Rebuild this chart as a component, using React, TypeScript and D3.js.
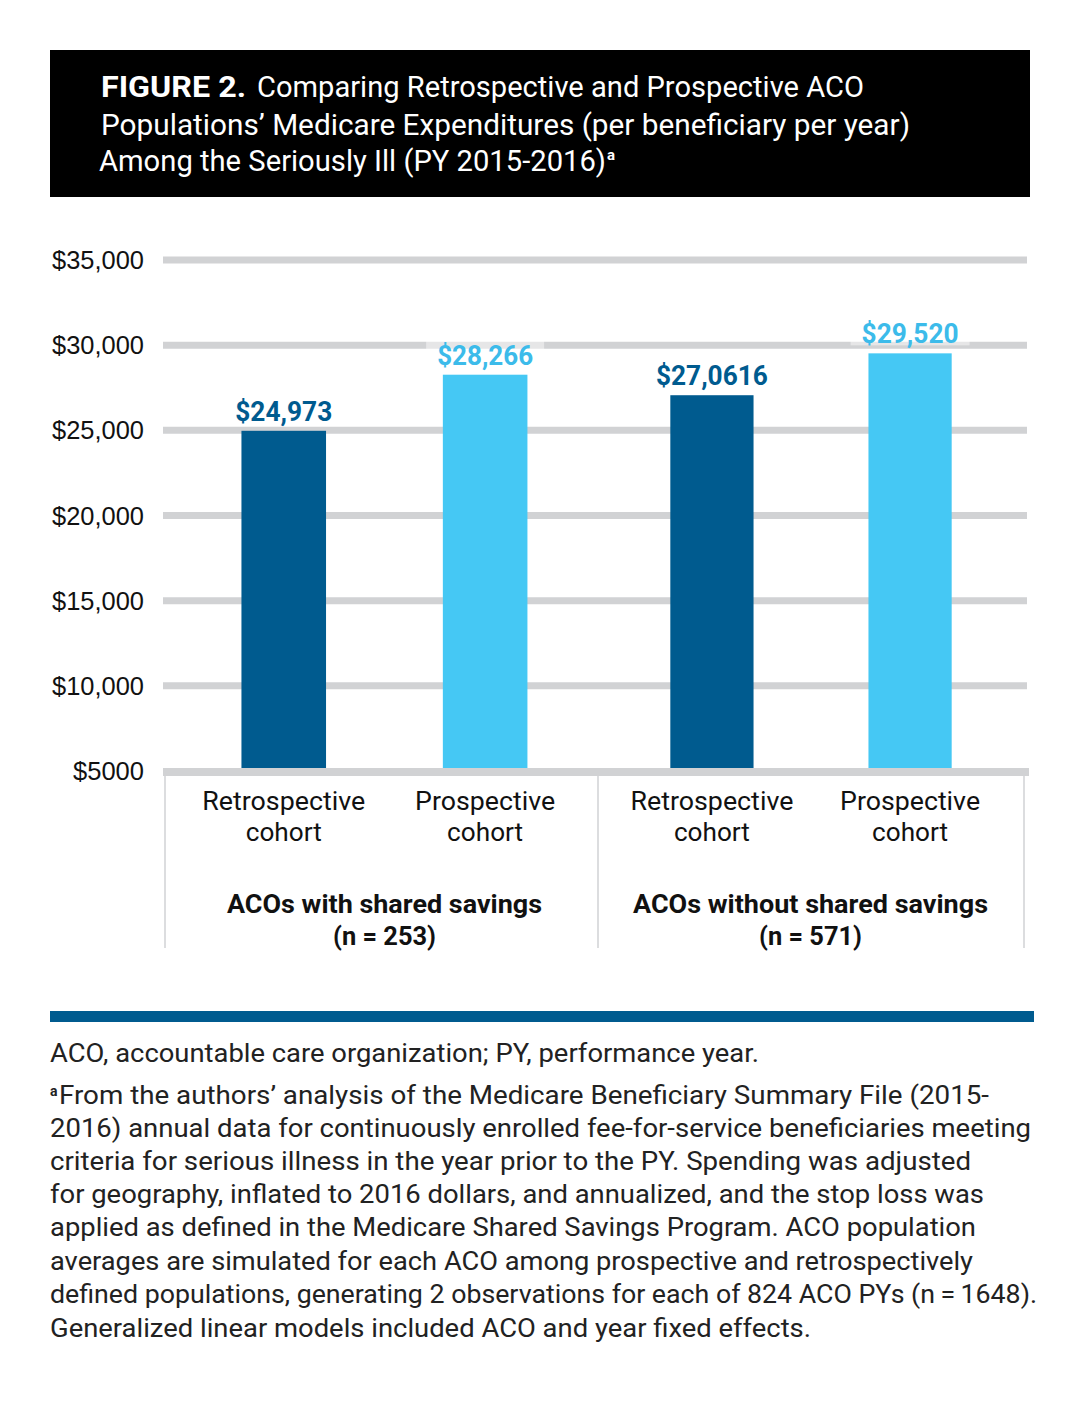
import React from "react";
import * as d3 from "d3";

const groups = ["ACOs with shared savings", "ACOs without shared savings"];
const groupN = ["(n = 253)", "(n = 571)"];
const cohorts = ["Retrospective", "Prospective"];
const values = [
  [24973, 28266],
  [27061.6, 29520],
];
const valueLabels = [
  ["$24,973", "$28,266"],
  ["$27,0616", "$29,520"],
];
const ticks = [5000, 10000, 15000, 20000, 25000, 30000, 35000];
const tickLabels = ["$5000", "$10,000", "$15,000", "$20,000", "$25,000", "$30,000", "$35,000"];
const titleLines = [
  "Comparing Retrospective and Prospective ACO",
  "Populations\u2019 Medicare Expenditures (per beneficiary per year)",
  "Among the Seriously Ill (PY 2015-2016)",
];
const footLines = [
  "ACO, accountable care organization; PY, performance year.",
  "From the authors\u2019 analysis of the Medicare Beneficiary Summary File (2015-",
  "2016) annual data for continuously enrolled fee-for-service beneficiaries meeting",
  "criteria for serious illness in the year prior to the PY. Spending was adjusted",
  "for geography, inflated to 2016 dollars, and annualized, and the stop loss was",
  "applied as defined in the Medicare Shared Savings Program. ACO population",
  "averages are simulated for each ACO among prospective and retrospectively",
  "defined populations, generating 2 observations for each of 824 ACO PYs (n\u2009=\u20091648).",
  "Generalized linear models included ACO and year fixed effects.",
];
const footWidths = [709, 930, 981, 921, 934, 926, 923, 987, 761];
const footY = [1062, 1104, 1137, 1170, 1203, 1236, 1270, 1303, 1337];

const COND = "Roboto, 'Noto Sans', sans-serif";
const DARK = "#005b8f";
const LIGHT = "#45c8f4";
const LIGHT_LABEL = "#3cbbea";
const GRID = "#d1d2d4";

const groupEdges = [165, 598, 1024];

export default function App() {
  const y = d3.scaleLinear().domain([5000, 35000]).range([771, 260]);
  const inner = (gi: number) =>
    d3
      .scaleBand<string>()
      .domain(cohorts)
      .range([groupEdges[gi], groupEdges[gi + 1]])
      .paddingInner(0.58)
      .paddingOuter(0.365)
      .align(gi === 0 ? 0.52 : 0.5);
  const scales = [inner(0), inner(1)];
  const valueLabelW = [
    [97, 96],
    [112, 97],
  ];

  return (
    <svg
      width={1084}
      height={1404}
      style={{ position: "absolute", left: 0, top: 0, background: "#fff" }}
    >
      {/* Title */}
      <rect x={50} y={50} width={980} height={147} fill="#000" />
      <text x={101} y={97} fill="#fff" fontFamily={COND} fontSize={29} fontWeight={700}
        textLength={145} lengthAdjust="spacingAndGlyphs">FIGURE 2.</text>
      <text x={257} y={97} fill="#fff" fontFamily={COND} fontSize={29}
        textLength={607} lengthAdjust="spacingAndGlyphs">{titleLines[0]}</text>
      <text x={101} y={135} fill="#fff" fontFamily={COND} fontSize={29}
        textLength={809} lengthAdjust="spacingAndGlyphs">{titleLines[1]}</text>
      <text x={99} y={171} fill="#fff" fontFamily={COND} fontSize={29}
        textLength={507} lengthAdjust="spacingAndGlyphs">{titleLines[2]}</text>
      <text x={607} y={160} fill="#fff" fontFamily={COND} fontSize={15} fontWeight={700}>a</text>

      {/* Gridlines */}
      {ticks.slice(1).map((t) => (
        <line key={t} x1={163} x2={1027} y1={y(t)} y2={y(t)} stroke={GRID} strokeWidth={7} />
      ))}

      {/* Bars */}
      {values.map((row, gi) =>
        row.map((v, ci) => (
          <rect
            key={`${gi}-${ci}`}
            x={scales[gi](cohorts[ci]) as number}
            y={y(v)}
            width={scales[gi].bandwidth()}
            height={y(5000) - y(v)}
            fill={ci === 0 ? DARK : LIGHT}
          />
        ))
      )}

      {/* Baseline */}
      <line x1={163} x2={1029} y1={y(5000) + 1} y2={y(5000) + 1} stroke={GRID} strokeWidth={8} />
      {/* separators */}
      {groupEdges.map((x) => (
        <line key={x} x1={x} x2={x} y1={776} y2={948} stroke="#dcdddf" strokeWidth={2} />
      ))}

      {/* Tick labels */}
      {ticks.map((t, i) => (
        <text key={t} x={144} y={y(t) + 9} textAnchor="end" fontFamily="'Liberation Sans', Arial, sans-serif"
          fontSize={25} fill="#111"
          textLength={i === 0 ? 71 : 92} lengthAdjust="spacingAndGlyphs">{tickLabels[i]}</text>
      ))}

      {/* Value labels */}
      {values.map((row, gi) =>
        row.map((v, ci) => {
          const c = (scales[gi](cohorts[ci]) as number) + scales[gi].bandwidth() / 2;
          const w = valueLabelW[gi][ci];
          return (
            <g key={`l-${gi}-${ci}`}>
              <rect x={c - w / 2 - 11} y={y(v) - 36} width={w + 22} height={28} fill="#fff" fillOpacity={0.45} />
              <text x={c - w / 2} y={y(v) - 10} fontFamily={COND} fontSize={27} fontWeight={700}
                fill={ci === 0 ? DARK : LIGHT_LABEL} textLength={w} lengthAdjust="spacingAndGlyphs">
                {valueLabels[gi][ci]}
              </text>
            </g>
          );
        })
      )}

      {/* Category labels */}
      {groups.map((g, gi) =>
        cohorts.map((c, ci) => {
          const cxp = (scales[gi](c) as number) + scales[gi].bandwidth() / 2;
          const w1 = ci === 0 ? 163 : 140;
          return (
            <g key={`c-${gi}-${ci}`}>
              <text x={cxp - w1 / 2} y={810} fontFamily={COND} fontSize={26} fill="#111"
                textLength={w1} lengthAdjust="spacingAndGlyphs">{c}</text>
              <text x={cxp - 38} y={841} fontFamily={COND} fontSize={26} fill="#111"
                textLength={76} lengthAdjust="spacingAndGlyphs">cohort</text>
            </g>
          );
        })
      )}

      {/* Group labels */}
      {groups.map((g, gi) => {
        const c = gi === 0 ? 384.5 : 810.5;
        const w = gi === 0 ? 315 : 355;
        return (
          <g key={`g-${gi}`}>
            <text x={c - w / 2} y={913} fontFamily={COND} fontSize={26} fontWeight={700} fill="#111"
              textLength={w} lengthAdjust="spacingAndGlyphs">{g}</text>
            <text x={c - 51.5} y={945} fontFamily={COND} fontSize={26} fontWeight={700} fill="#111"
              textLength={103} lengthAdjust="spacingAndGlyphs">{groupN[gi]}</text>
          </g>
        );
      })}

      {/* Blue band */}
      <rect x={50} y={1011} width={984} height={11} fill={DARK} />

      {/* Footnotes */}
      {footLines.map((l, i) => (
        <g key={i}>
          {i === 1 && (
            <text x={50} y={footY[i] - 8} fontFamily={COND} fontSize={14} fontWeight={700} fill="#222">a</text>
          )}
          <text x={i === 1 ? 59 : 50} y={footY[i]} fontFamily={COND} fontSize={26} fill="#222"
            textLength={footWidths[i]} lengthAdjust="spacingAndGlyphs">{l}</text>
        </g>
      ))}
    </svg>
  );
}
